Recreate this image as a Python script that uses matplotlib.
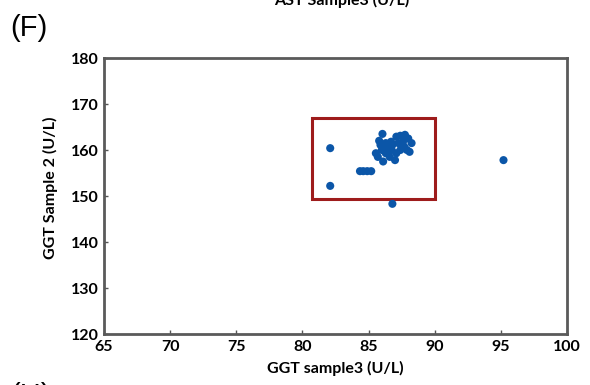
import matplotlib
matplotlib.use("Agg")
import matplotlib.pyplot as plt
from matplotlib.patches import Rectangle

x_vals = [82.1, 82.1, 84.35, 84.6, 84.9, 85.2, 86.8, 95.2,
          86.05, 85.8, 86.3, 86.7, 87.1, 87.4, 87.75, 88.0, 88.25, 88.1,
          87.7, 87.4, 87.1, 87.0, 86.6, 86.1, 85.7, 85.55, 86.0, 86.4,
          86.75, 86.3, 85.9, 87.25, 87.6, 87.9, 86.8]
y_vals = [160.4, 152.2, 155.4, 155.4, 155.4, 155.4, 148.3, 157.8,
          163.5, 162.0, 161.5, 161.8, 162.9, 163.1, 163.3, 162.5, 161.5, 159.6,
          160.7, 160.0, 159.3, 157.8, 158.5, 157.5, 158.5, 159.3, 160.0, 160.4,
          160.0, 159.3, 161.1, 161.5, 161.8, 160.0, 161.1]
box = dict(x0=80.7, x1=90.0, y0=149.3, y1=166.9)
x_ticks = [65, 70, 75, 80, 85, 90, 95, 100]
y_ticks = [120, 130, 140, 150, 160, 170, 180]

plt.rcParams['font.family'] = ['Lato', 'DejaVu Sans']

fig = plt.figure(figsize=(5.9, 3.85), dpi=100)
ax = fig.add_axes([104/590, 1-334/385, (567-104)/590, (334-58)/385])

ax.scatter(x_vals, y_vals, s=34, color='#0B56A8', edgecolors='none', zorder=3)
ax.add_patch(Rectangle((box['x0'], box['y0']), box['x1']-box['x0'], box['y1']-box['y0'],
                       fill=False, edgecolor='#9E1C1C', linewidth=2.2, zorder=2))

ax.set_xlim(65, 100)
ax.set_ylim(120, 180)
ax.set_xticks(x_ticks)
ax.set_yticks(y_ticks)
ax.set_xticklabels([str(t) for t in x_ticks], fontweight='bold', fontsize=11.5)
ax.set_yticklabels([str(t) for t in y_ticks], fontweight='bold', fontsize=11.5)
ax.tick_params(direction='in', length=3, width=1, color='#555555', pad=4)
for s in ax.spines.values():
    s.set_color('#5a5a5a')
    s.set_linewidth(2)

ax.set_xlabel('GGT sample3 (U/L)', fontweight='bold', fontsize=11.5, va='center')
ax.xaxis.set_label_coords(0.5, (334-368)/276)
ax.set_ylabel('GGT Sample 2 (U/L)', fontweight='bold', fontsize=11.5, va='center')
ax.yaxis.set_label_coords((50-104)/463, (334-188)/276)

fig.text(342/590, 1-5/385, 'AST Sample3 (U/L)', fontweight='bold', fontsize=11.5,
         ha='center', va='baseline')
fig.text(10/590, 1-28/385, '(F)', fontsize=21, ha='left', va='center',
         family=['Liberation Sans', 'DejaVu Sans'])
fig.text(10/590, 1-382/385, '(H)', fontsize=21, ha='left', va='top',
         family=['Liberation Sans', 'DejaVu Sans'])

fig.savefig('out.png', dpi=100)
